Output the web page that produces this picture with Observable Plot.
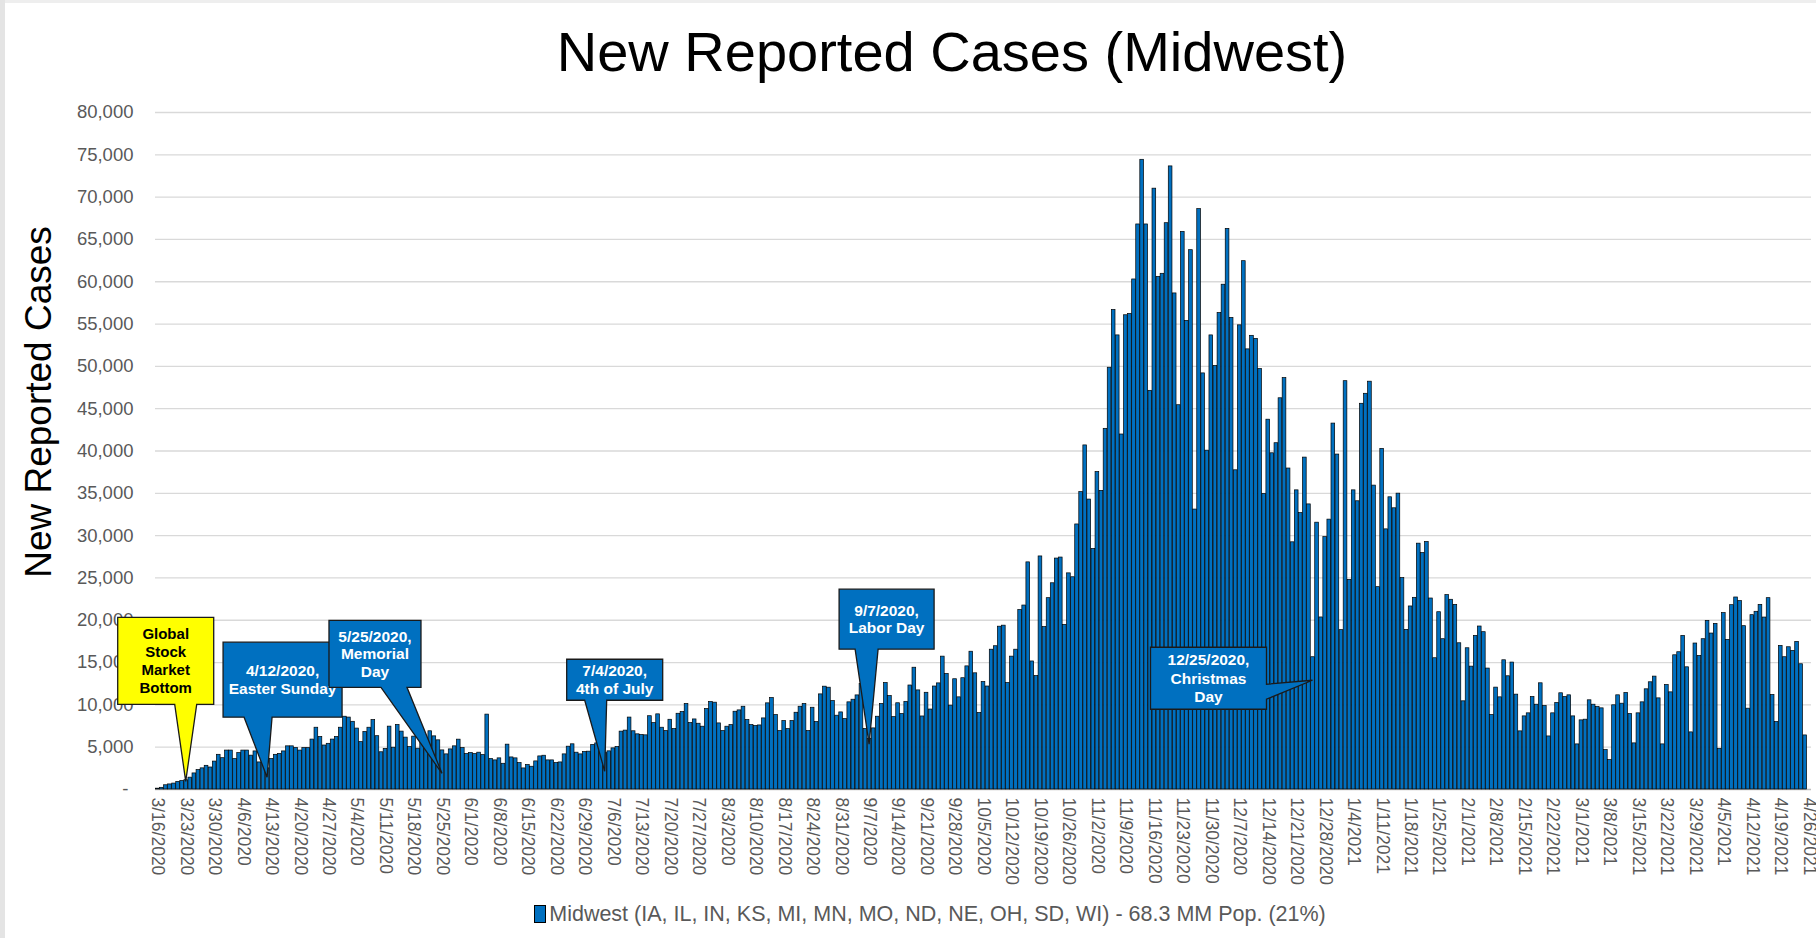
<!DOCTYPE html>
<html>
<head>
<meta charset="utf-8">
<script src="https://cdn.jsdelivr.net/npm/d3@7"></script>
<script src="https://cdn.jsdelivr.net/npm/@observablehq/plot@0.6"></script>
<style>
  html, body { margin: 0; padding: 0; background: #fff; overflow: hidden; width: 1816px; height: 938px; }
  body { position: relative; font-family: "Liberation Sans", Arial, sans-serif; }
  #title { position: absolute; left: 0; top: 24px; width: 1904px; text-align: center; font-size: 56px; line-height: 56px; color: #000; }
  #chart { position: absolute; left: 0; top: 100px; }
  #legend { position: absolute; left: 0; top: 900px; width: 1860px; text-align: center; font-size: 21.5px; color: #595959; line-height: 28px; }
  #legend .sw { display: inline-block; width: 10px; height: 16px; background: #0070C0; border: 1px solid #000; vertical-align: -2px; margin-right: 3px; }
  #edgeL { position: absolute; left: 0; top: 0; width: 5px; height: 938px; background: #e4e4e4; }
  #edgeT { position: absolute; left: 0; top: 0; width: 1816px; height: 3px; background: #eeeeee; }
</style>
</head>
<body>
<div id="edgeT"></div>
<div id="edgeL"></div>
<div id="title">New Reported Cases (Midwest)</div>
<div id="chart"></div>
<div id="legend"><span class="sw"></span>Midwest (IA, IL, IN, KS, MI, MN, MO, ND, NE, OH, SD, WI) - 68.3 MM Pop. (21%)</div>
<script>
// ---------------- DATA ----------------
const firstDay = "2020-03-16";
const lastDay = "2021-04-26";
// Daily new reported cases, one value per day starting 3/16/2020
const newCases = [
  100, 200, 500, 600, 700, 900, 1000, 1100, 1400, 1900, 2300, 2500, 2800, 2600,
  3300, 4100, 3700, 4600, 4600, 3600, 4300, 4600, 4600, 4000, 4500, 3200, 3900, 2500,
  3600, 4100, 4200, 4500, 5100, 5100, 4900, 4600, 4900, 4900, 5900, 7300, 6200, 5200,
  5400, 5900, 6200, 7300, 8600, 8500, 8000, 7200, 5600, 6800, 7300, 8200, 6300, 4400, 4800,
  7430, 4940, 7630, 6840, 6130, 5020, 6250, 4820, 6200, 5730, 6880, 6280, 5810, 4620, 4150,
  4740, 5100, 5890, 4900, 4190, 4310, 4190, 4350, 4070, 8850, 3600, 3440, 3680, 3040, 5300,
  3790, 3680, 3120, 2490, 2890, 2690, 3320, 3910, 3990, 3440, 3440, 3120, 3200, 4150, 5060,
  5340, 4350, 4150, 4430, 4470, 5260, 5450, 4740, 4310, 4510, 4860, 5020, 6840, 6960, 8500,
  6880, 6520, 6440, 6400, 8660,
  7850, 8880, 7300, 6900, 8240, 7140, 8950, 9150, 10100, 7850, 8280, 7770, 7420, 9510, 10340,
  10260, 7810, 6900, 7420, 7610, 9190, 9350, 9780, 8200, 7610, 7500, 7570, 8400, 10180, 10810,
  8800, 6900, 8090, 7140, 8090, 9070, 9780, 10100, 6900, 9660, 7970, 11240, 12150, 12030, 10450,
  8720, 9110, 8320, 10300, 10610, 11120, 12470, 7140, 6000, 7220, 8600, 10100, 12580, 11050,
  8550, 10190, 8920, 10360, 12290, 14390, 11710, 8630, 11430, 9450, 12170, 12540, 15700, 13650,
  9910, 13030, 10890, 13150, 14550, 16280, 13730, 9040, 12700, 12170, 16520, 16930, 19240, 19360,
  12580, 15700, 16520, 21210, 21740, 26840, 15130, 13400, 27540, 19190, 22610, 24370, 27290, 27410,
  19450, 25540, 25080, 31320, 35140, 40660, 34260, 28430, 37510, 35290, 42620, 49840, 56660, 53660,
  41950, 56040, 56190, 60270, 66770, 74410, 66770, 47110, 71000, 60580, 60940, 66920, 73630, 58620,
  45410, 65890, 55370, 63730, 33080, 68580, 49170, 40040, 53660,
  50050, 56300, 59650, 66250, 55730, 37720, 54850, 62430, 52010, 53610, 53250, 49690, 34930, 43700,
  39730, 40920, 46230, 48610, 37930, 29210, 35350, 32660, 39220, 33690, 15630, 31530, 20330, 29820,
  31890, 43240, 39580, 18830, 48250, 24770, 35350, 34060,
  45580, 46760, 48190, 35910, 23910, 40250, 30740, 34530, 33230, 34960, 24980, 18860, 21630, 22650,
  29050, 27940, 29240, 22570, 15510, 20950, 17760, 22970, 22420, 21820, 17280, 10420, 16690, 14520,
  18150, 19260, 18590, 14290, 8800, 12040,
  10890, 15270, 13380, 15000, 11210, 6870, 8640, 9000, 10930, 10020, 12550, 9870, 6270, 9000,
  10220, 11370, 10930, 11130, 8640, 5330, 8170, 8250, 10540, 10020, 9750, 9590, 4660, 3470,
  9950, 11130, 10140, 11400, 8920, 5450,
  9000, 10300, 11840, 12670, 13340, 10770, 5330, 12350, 11480, 15860, 16220, 18150, 14440, 6750,
  17250, 15790, 17760, 19930, 18430, 19570, 4810, 20840, 17680, 21780, 22690, 22260, 19300, 9550,
  20600, 21000, 21820, 20320, 22610, 11170, 7970, 16970, 15630, 16810, 16380, 17440, 14800, 6390
];
const yTicks = [0, 5000, 10000, 15000, 20000, 25000, 30000, 35000, 40000, 45000, 50000,
                55000, 60000, 65000, 70000, 75000, 80000];
const tickEveryDays = 7;

// Callouts (anchor date + value of pointer tip)
const calloutDates = ["2020-03-23", "2020-04-12", "2020-05-25", "2020-07-04", "2020-09-07", "2020-12-25"];
const calloutTipValues = [900, 1400, 1850, 2100, 5300, 12850];
const calloutLines = [
  ["Global", "Stock", "Market", "Bottom"],
  ["4/12/2020,", "Easter Sunday"],
  ["5/25/2020,", "Memorial", "Day"],
  ["7/4/2020,", "4th of July"],
  ["9/7/2020,", "Labor Day"],
  ["12/25/2020,", "Christmas", "Day"]
];

// ---------------- LAYOUT / STYLE ----------------
// box offsets relative to the tip [x0, x1, y0, y1], pointer base [b0, b1], side
const calloutLayout = [
  {box: [-68, 28, -164, -77], base: [-11, 11], side: "bottom", fill: "#FFFF00", color: "#000", size: 15, lh: 18},
  {box: [-44, 75, -135, -60], base: [-23, 5], side: "bottom", fill: "#0070C0", color: "#fff", size: 15.5, lh: 18},
  {box: [-113, -21, -153, -86], base: [-61, -35], side: "bottom", fill: "#0070C0", color: "#fff", size: 15.5, lh: 17.5},
  {box: [-38, 58, -112, -71], base: [-20, 2], side: "bottom", fill: "#0070C0", color: "#fff", size: 15.5, lh: 17.5},
  {box: [-30, 65, -155, -95], base: [-14, 9], side: "bottom", fill: "#0070C0", color: "#fff", size: 15.5, lh: 17.5},
  {box: [-162, -46, -33, 29], base: [4, 19], side: "right", fill: "#0070C0", color: "#fff", size: 15.5, lh: 18.5}
];

const parse = d3.utcParse("%Y-%m-%d");
const dates = d3.utcDay.range(parse(firstDay), d3.utcDay.offset(parse(lastDay), 1));
const data = newCases.map((v, i) => ({date: dates[i], cases: v}));
const weekTicks = dates.filter((d, i) => i % tickEveryDays === 0);
const fmtDate = d3.utcFormat("%-m/%-d/%Y");
const fmtNum = d3.format(",");

const plot = Plot.plot({
  width: 1816,
  height: 795,
  marginTop: 12,
  marginBottom: 106,
  marginLeft: 155,
  marginRight: 5,
  style: {fontFamily: "'Liberation Sans', Arial, sans-serif", color: "#595959", background: "transparent", overflow: "visible"},
  x: {type: "band", domain: dates, padding: 0.1, round: false, label: null},
  y: {domain: [0, 80000], label: null},
  marks: [
    Plot.gridY(yTicks.filter(d => d > 0), {stroke: "#d9d9d9", strokeOpacity: 1, strokeWidth: 1.3}),
    Plot.ruleY([0], {stroke: "#bfbfbf", strokeWidth: 1.3}),
    Plot.barY(data, {x: "date", y: "cases", fill: "#0070C0", stroke: "#000", strokeWidth: 0.7}),
    Plot.axisY(yTicks, {tickSize: 0, tickPadding: 22, fontSize: 18.5, label: null,
      tickFormat: d => d === 0 ? "-\u00a0" : fmtNum(d)}),
    Plot.axisX(weekTicks, {tickSize: 0, tickPadding: 8, tickRotate: 90, fontSize: 17.5, label: null,
      tickFormat: fmtDate})
  ]
});
document.getElementById("chart").appendChild(plot);

// positional helpers from Plot's own scales
const xs = plot.scale("x");
const ys = plot.scale("y");
const xBand = d3.scaleBand(xs.domain, xs.range)
  .paddingInner(xs.paddingInner ?? 0.1).paddingOuter(xs.paddingOuter ?? 0.1).align(xs.align ?? 0.5);
const xPos = d => xBand(d) + xBand.bandwidth() / 2;
const yPos = v => ys.apply ? ys.apply(v) : d3.scaleLinear(ys.domain, ys.range)(v);

const svg = d3.select(plot);

// y axis title
svg.append("text")
  .attr("transform", "translate(38,302) rotate(-90)")
  .attr("text-anchor", "middle")
  .attr("dominant-baseline", "central")
  .attr("fill", "#000")
  .style("font-size", "37px")
  .text("New Reported Cases");

// callouts
calloutDates.forEach((ds, i) => {
  const L = calloutLayout[i];
  const tx = xPos(parse(ds));
  const ty = yPos(calloutTipValues[i]);
  const x0 = tx + L.box[0], x1 = tx + L.box[1], y0 = ty + L.box[2], y1 = ty + L.box[3];
  let path;
  if (L.side === "bottom") {
    const b0 = tx + L.base[0], b1 = tx + L.base[1];
    path = `M${x0},${y0}H${x1}V${y1}H${b1}L${tx},${ty}L${b0},${y1}H${x0}Z`;
  } else {
    const b0 = ty + L.base[0], b1 = ty + L.base[1];
    path = `M${x0},${y0}H${x1}V${b0}L${tx},${ty}L${x1},${b1}V${y1}H${x0}Z`;
  }
  const g = svg.append("g");
  g.append("path").attr("d", path).attr("fill", L.fill).attr("stroke", "#1a1a1a").attr("stroke-width", 1.3);
  const lines = calloutLines[i];
  const cx = (x0 + x1) / 2, cy = (y0 + y1) / 2;
  const top = cy - (lines.length - 1) * L.lh / 2;
  lines.forEach((t, k) => {
    g.append("text")
      .attr("x", cx).attr("y", top + k * L.lh)
      .attr("text-anchor", "middle").attr("dominant-baseline", "central")
      .attr("fill", L.color)
      .style("font-size", L.size + "px").style("font-weight", "bold")
      .text(t);
  });
});
</script>
</body>
</html>
